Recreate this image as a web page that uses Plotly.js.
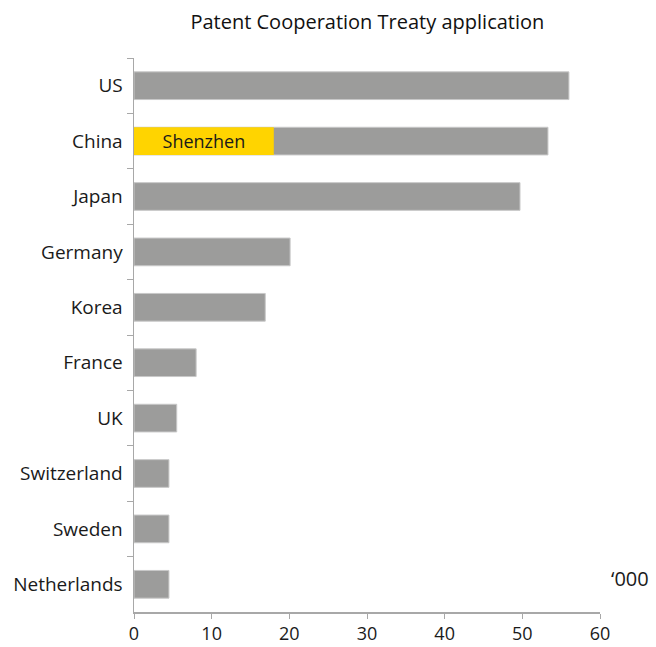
<!DOCTYPE html>
<html>
<head>
<meta charset="utf-8">
<script src="https://cdn.plot.ly/plotly-3.0.1.min.js"></script>
<style>body{margin:0;padding:0;background:#fff}#chart{width:656px;height:647px}</style>
</head>
<body>
<div id="chart"></div>
<script>
const countries = ["US","China","Japan","Germany","Korea","France","UK","Switzerland","Sweden","Netherlands"];
const applications = [56, 53.3, 49.7, 20.1, 16.9, 8.0, 5.5, 4.5, 4.5, 4.5];
const cityCategory = ["China"];
const cityValues = [18];
const cityLabels = ["Shenzhen"];

const font = "'Open Sans', sans-serif";
const traces = [
  {type:"bar", orientation:"h", y:countries, x:applications,
   marker:{color:"#9c9c9b", line:{color:"#c8c8c8", width:1}}, hoverinfo:"x+y"},
  {type:"bar", orientation:"h", y:cityCategory, x:cityValues, text:cityLabels,
   textposition:"inside", insidetextanchor:"middle", constraintext:"none",
   textfont:{family:font, size:18, color:"#1a1a1a"},
   marker:{color:"#ffd400"}}
];
const layout = {
  width:656, height:647,
  margin:{l:134, r:56, t:58, b:35},
  paper_bgcolor:"#fff", plot_bgcolor:"#fff",
  barmode:"overlay", bargap:0.5, showlegend:false,
  font:{family:font, color:"#1a1a1a", size:18},
  title:{text:"Patent Cooperation Treaty application", x:0.56, xanchor:"center", y:0.966, yanchor:"middle",
         font:{family:font, size:20, color:"#111"}},
  xaxis:{range:[0,60], dtick:10, showgrid:false, zeroline:false, showline:true, linecolor:"#a8a8a8", linewidth:1.5,
         ticks:"outside", ticklen:5, tickcolor:"#a8a8a8", tickfont:{size:18}, fixedrange:true},
  yaxis:{categoryorder:"array", categoryarray:countries, autorange:"reversed", showgrid:false, zeroline:false,
         showline:true, linecolor:"#a8a8a8", linewidth:1.5, ticks:"outside", ticklen:6, tickcolor:"#a8a8a8",
         tickson:"boundaries", ticklabelstandoff:6, tickfont:{size:19}},
  annotations:[{text:"‘000", xref:"paper", yref:"paper", x:1.02, y:0.06, xanchor:"left", yanchor:"middle",
                showarrow:false, font:{family:font, size:20, color:"#1a1a1a"}}]
};
Plotly.newPlot("chart", traces, layout, {displayModeBar:false, staticPlot:true});
</script>
</body>
</html>
